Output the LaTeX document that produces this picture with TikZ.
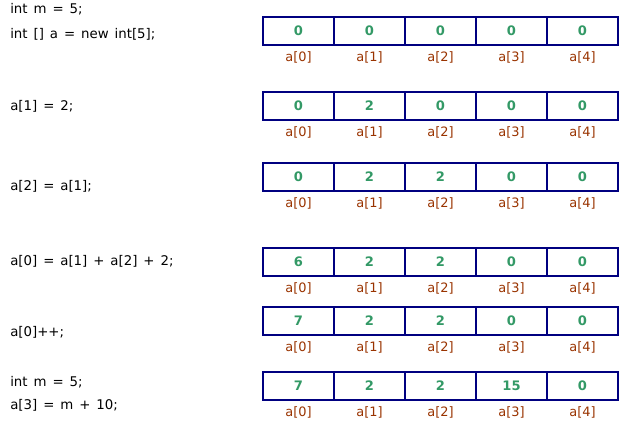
\documentclass[tikz,border=0pt]{standalone}
\usepackage{fontspec}
\setmainfont{DejaVu Sans}
\newfontfamily\codefont[WordSpace=1.4]{DejaVu Sans}
\usepackage{xcolor}
\usepackage{tikz}

\definecolor{boxnavy}{HTML}{000080}
\definecolor{valgreen}{HTML}{339966}
\definecolor{idxbrown}{HTML}{993300}

\begin{document}
\begin{tikzpicture}[x=0.75pt, y=-0.75pt,
    cell/.style={draw=boxnavy, line width=1.5pt, minimum width=53.25pt, minimum height=21pt,
                 inner sep=0pt, font=\fontsize{9.8}{11}\selectfont\bfseries, text=valgreen},
    idx/.style={font=\fontsize{9.7}{11}\selectfont, text=idxbrown, inner sep=0pt},
    code/.style={font=\codefont\fontsize{10}{12}\selectfont, anchor=west, inner sep=0pt}]
    % --- LAYER 1: BATAS GAMBAR ---
    \useasboundingbox (0,0) rectangle (630,425);

    % --- LAYER 2: KODE PROGRAM (Sisi Kiri) ---
    \node[code] (s1a) at (10,9)   {int m = 5;};
    \node[code] (s1b) at (10,34)  {int [] a = new int[5];};
    \node[code] (s2)  at (10,106) {a[1] = 2;};
    \node[code] (s3)  at (10,186) {a[2] = a[1];};
    \node[code] (s4)  at (10,261) {a[0] = a[1] + a[2] + 2;};
    \node[code] (s5)  at (10,332) {a[0]++;};
    \node[code] (s6a) at (10,382) {int m = 5;};
    \node[code] (s6b) at (10,405) {a[3] = m + 10;};

    % --- LAYER 3: ISI ARRAY DAN INDEKS ---
    % Loop untuk setiap baris dan setiap sel array
    \foreach \row/\top/\vals in {1/17/{0,0,0,0,0}, 2/92/{0,2,0,0,0}, 3/163/{0,2,2,0,0},
                                 4/248/{6,2,2,0,0}, 5/307/{7,2,2,0,0}, 6/372/{7,2,2,15,0}} {
        \foreach \v [count=\i from 0] in \vals {
            \node[cell] (r\row c\i) at (298.5+71*\i, \top+14) {\v};
            \node[idx] (i\row c\i) at (298.5+71*\i, \top+40) {a[\i]};
        }
    }

\end{tikzpicture}
\end{document}
